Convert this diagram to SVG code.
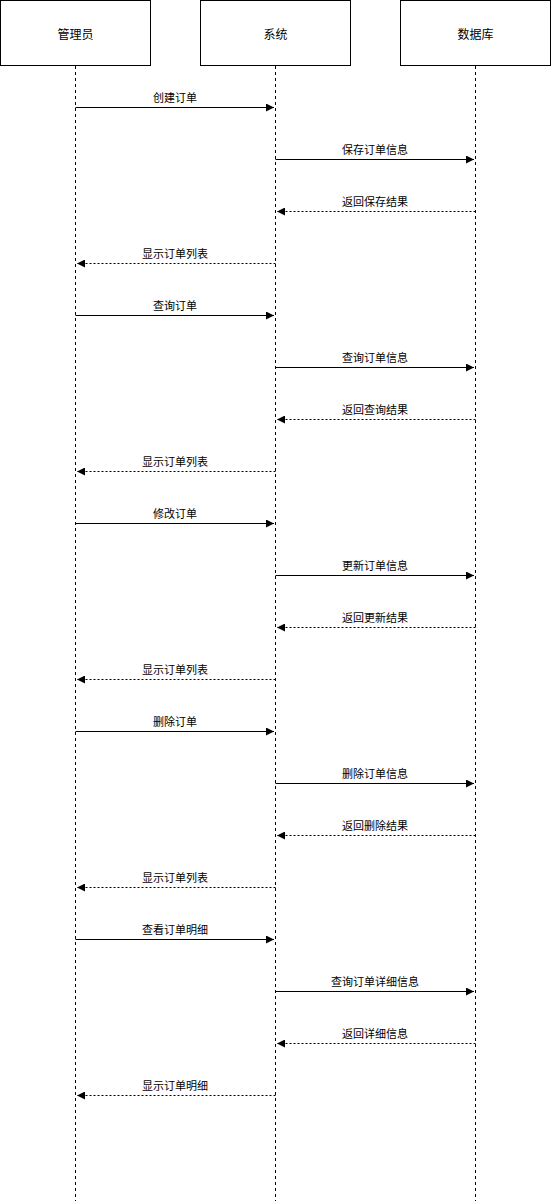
<svg xmlns="http://www.w3.org/2000/svg" width="551" height="1201" viewBox="0 0 551 1201">
  <style>
    .box { fill: #ffffff; stroke: #000000; stroke-width: 1; }
    .life { stroke: #000000; stroke-width: 1; stroke-dasharray: 3 3; fill: none; }
    .call { stroke: #000000; stroke-width: 1; fill: none; marker-end: url(#arrow); }
    .ret { stroke: #000000; stroke-width: 1; stroke-dasharray: 2 2; fill: none; marker-end: url(#arrow); }
    .title { font-family: "Noto Sans CJK SC", "Liberation Sans", sans-serif; font-size: 12px; fill: #000000; text-anchor: middle; dominant-baseline: central; }
    .lbl { font-family: "Noto Sans CJK SC", "Liberation Sans", sans-serif; font-size: 11px; fill: #000000; text-anchor: middle; }
  </style>
  <defs>
    <marker id="arrow" viewBox="0 0 10 10" refX="10" refY="5" markerWidth="8" markerHeight="8" markerUnits="userSpaceOnUse" orient="auto">
      <path d="M0,0 L10,5 L0,10 Z" fill="#000000"/>
    </marker>
  </defs>
  <rect width="551" height="1201" fill="#ffffff"/>

  <!-- participants -->
  <g id="admin">
    <rect class="box" x="0.5" y="0.5" width="150" height="65"/>
    <text class="title" x="75.5" y="33">管理员</text>
    <line class="life" x1="75.5" y1="66" x2="75.5" y2="1201"/>
  </g>
  <g id="system">
    <rect class="box" x="200.5" y="0.5" width="150" height="65"/>
    <text class="title" x="275.5" y="33">系统</text>
    <line class="life" x1="275.5" y1="66" x2="275.5" y2="1201"/>
  </g>
  <g id="database">
    <rect class="box" x="400.5" y="0.5" width="150" height="65"/>
    <text class="title" x="475.5" y="33">数据库</text>
    <line class="life" x1="475.5" y1="66" x2="475.5" y2="1201"/>
  </g>

  <!-- messages -->
  <g id="connectors">
    <line class="call" x1="75.5" y1="107.5" x2="274" y2="107.5"/>
    <text class="lbl" x="175" y="102">创建订单</text>
    <line class="call" x1="275.5" y1="159.5" x2="474" y2="159.5"/>
    <text class="lbl" x="375" y="154">保存订单信息</text>
    <line class="ret" x1="475.5" y1="211.5" x2="277" y2="211.5"/>
    <text class="lbl" x="375" y="206">返回保存结果</text>
    <line class="ret" x1="275.5" y1="263.5" x2="77" y2="263.5"/>
    <text class="lbl" x="175" y="258">显示订单列表</text>

    <line class="call" x1="75.5" y1="315.5" x2="274" y2="315.5"/>
    <text class="lbl" x="175" y="310">查询订单</text>
    <line class="call" x1="275.5" y1="367.5" x2="474" y2="367.5"/>
    <text class="lbl" x="375" y="362">查询订单信息</text>
    <line class="ret" x1="475.5" y1="419.5" x2="277" y2="419.5"/>
    <text class="lbl" x="375" y="414">返回查询结果</text>
    <line class="ret" x1="275.5" y1="471.5" x2="77" y2="471.5"/>
    <text class="lbl" x="175" y="466">显示订单列表</text>

    <line class="call" x1="75.5" y1="523.5" x2="274" y2="523.5"/>
    <text class="lbl" x="175" y="518">修改订单</text>
    <line class="call" x1="275.5" y1="575.5" x2="474" y2="575.5"/>
    <text class="lbl" x="375" y="570">更新订单信息</text>
    <line class="ret" x1="475.5" y1="627.5" x2="277" y2="627.5"/>
    <text class="lbl" x="375" y="622">返回更新结果</text>
    <line class="ret" x1="275.5" y1="679.5" x2="77" y2="679.5"/>
    <text class="lbl" x="175" y="674">显示订单列表</text>

    <line class="call" x1="75.5" y1="731.5" x2="274" y2="731.5"/>
    <text class="lbl" x="175" y="726">删除订单</text>
    <line class="call" x1="275.5" y1="783.5" x2="474" y2="783.5"/>
    <text class="lbl" x="375" y="778">删除订单信息</text>
    <line class="ret" x1="475.5" y1="835.5" x2="277" y2="835.5"/>
    <text class="lbl" x="375" y="830">返回删除结果</text>
    <line class="ret" x1="275.5" y1="887.5" x2="77" y2="887.5"/>
    <text class="lbl" x="175" y="882">显示订单列表</text>

    <line class="call" x1="75.5" y1="939.5" x2="274" y2="939.5"/>
    <text class="lbl" x="175" y="934">查看订单明细</text>
    <line class="call" x1="275.5" y1="991.5" x2="474" y2="991.5"/>
    <text class="lbl" x="375" y="986">查询订单详细信息</text>
    <line class="ret" x1="475.5" y1="1043.5" x2="277" y2="1043.5"/>
    <text class="lbl" x="375" y="1038">返回详细信息</text>
    <line class="ret" x1="275.5" y1="1095.5" x2="77" y2="1095.5"/>
    <text class="lbl" x="175" y="1090">显示订单明细</text>
  </g>
</svg>
